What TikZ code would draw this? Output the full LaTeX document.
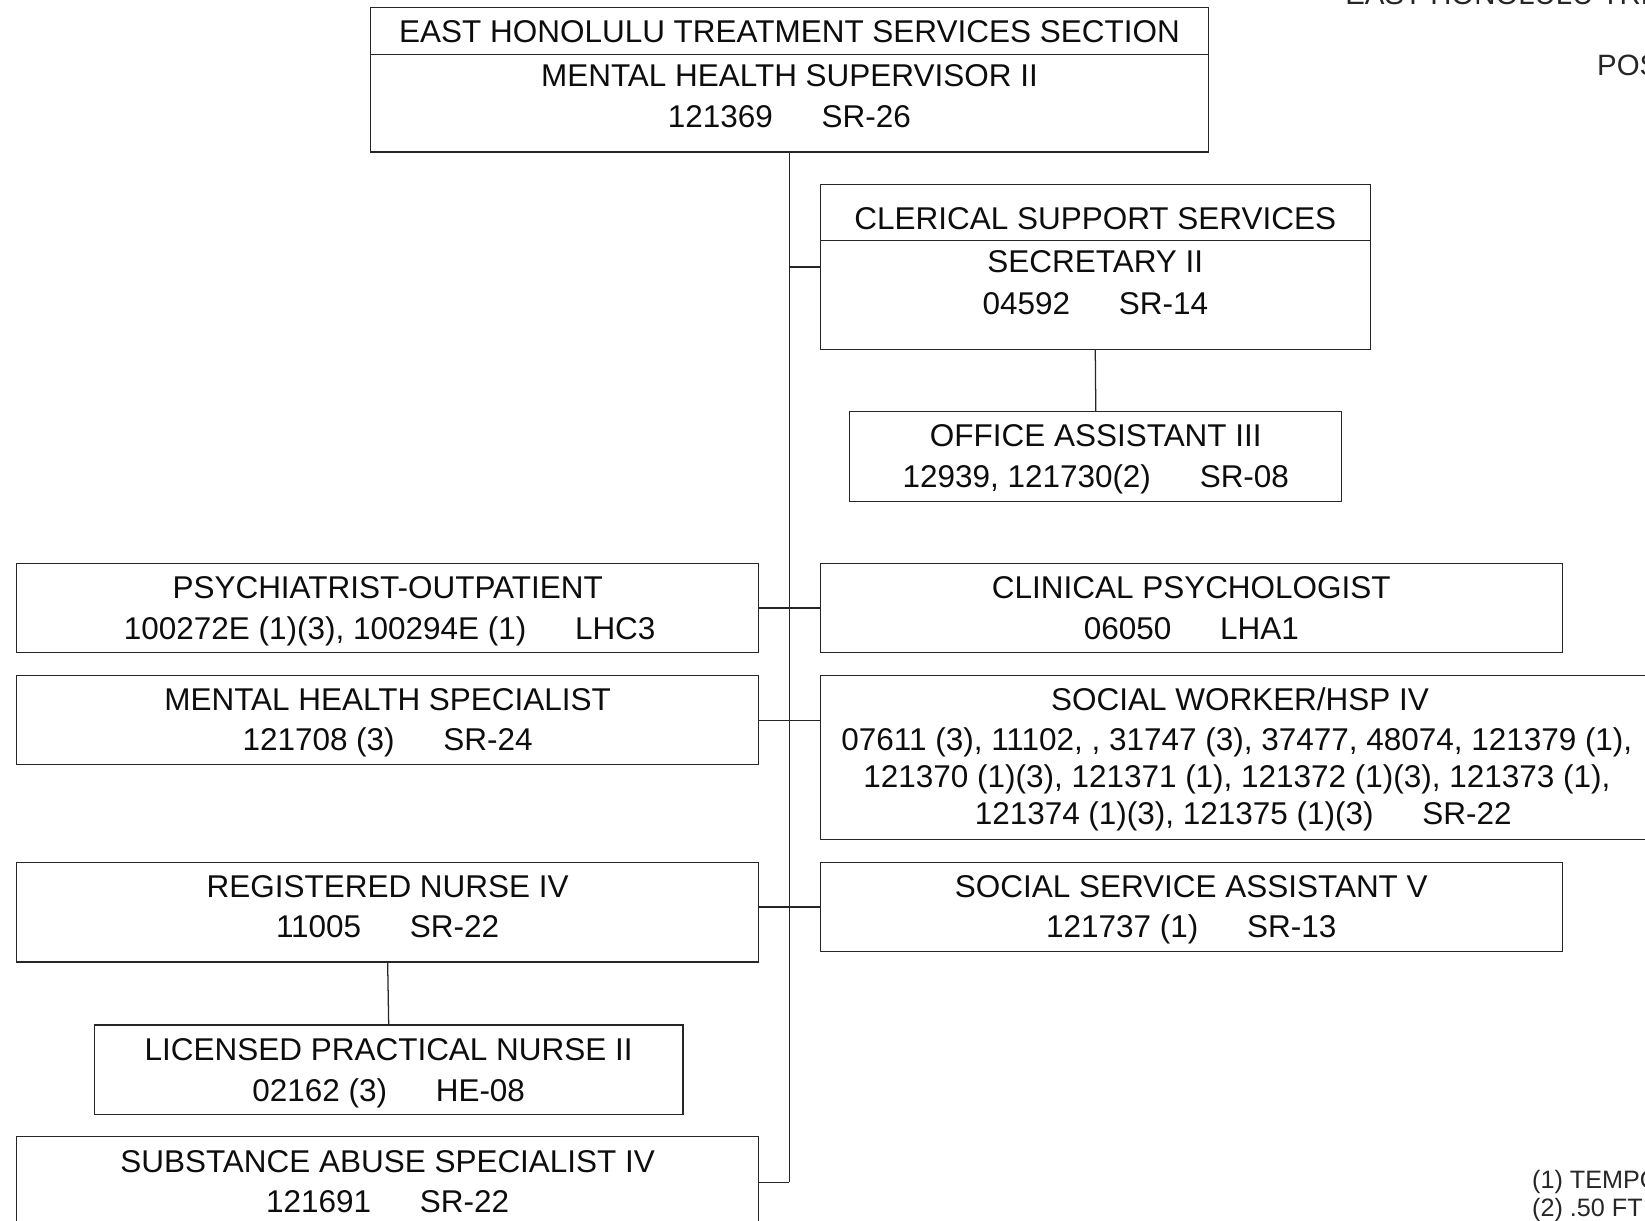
\documentclass[tikz,border=0pt]{standalone}
\usepackage{fontspec}
\setmainfont{Liberation Sans}
\usetikzlibrary{fit}
\begin{document}
\begin{tikzpicture}[x=0.5pt,y=-0.5pt,
  box/.style={draw=black!85, line width=0.6pt, inner sep=0pt, outer sep=0pt, rectangle},
  conn/.style={draw=black!85, line width=0.6pt},
  txt/.style={anchor=base, inner sep=0pt, text=black!95, font=\fontsize{15pt}{18pt}\selectfont},
  hdr/.style={anchor=base west, inner sep=0pt, text=black!85, font=\fontsize{14pt}{17pt}\selectfont},
  note/.style={anchor=base west, inner sep=0pt, text=black!85, font=\fontsize{12pt}{14pt}\selectfont}]
\useasboundingbox (0,0) rectangle (1568,1163);
\def\gap{\hspace{1.55em}}
% boxes
\node[box, fit={(353,7) (1152,145)}] (top) {};
\node[box, fit={(782,176) (1306,333)}] (cler) {};
\node[box, fit={(810,392) (1279,478)}] (oa) {};
\node[box, fit={(16,537) (723,622)}] (psy) {};
\node[box, fit={(782,537) (1489,622)}] (clin) {};
\node[box, fit={(16,644) (723,729)}] (mhs) {};
\node[box, fit={(782,644) (1582,800)}] (sw) {};
\node[box, fit={(16,822) (723,917)}] (rn) {};
\node[box, fit={(782,822) (1489,907)}] (ssa) {};
\node[box, fit={(90,977) (651,1062)}] (lpn) {};
\node[box, fit={(16,1083) (723,1200)}] (sas) {};
% dividers
\draw[conn] (353,52) -- (1152,52);
\draw[conn] (782,229) -- (1306,229);
% texts
\node[txt] (top1) at (752.5,40.7) {EAST HONOLULU TREATMENT SERVICES SECTION};
\node[txt] (top2) at (752.5,82.7) {MENTAL HEALTH SUPERVISOR II};
\node[txt] (top3) at (752.5,121.7) {121369\gap SR-26};
\node[txt] (cler1) at (1044,218.7) {CLERICAL SUPPORT SERVICES};
\node[txt] (cler2) at (1044,259.7) {SECRETARY II};
\node[txt] (cler3) at (1044,299.7) {04592\gap SR-14};
\node[txt] (oa1) at (1044.5,425.7) {OFFICE ASSISTANT III};
\node[txt] (oa2) at (1044.5,464.7) {12939, 121730(2)\gap SR-08};
\node[txt] (psy1) at (369.5,570.7) {PSYCHIATRIST-OUTPATIENT};
\node[txt] (psy2) at (371.5,609.7) {100272E (1)(3), 100294E (1)\gap LHC3};
\node[txt] (clin1) at (1135.5,570.7) {CLINICAL PSYCHOLOGIST};
\node[txt] (clin2) at (1135.5,609.7) {06050\gap LHA1};
\node[txt] (mhs1) at (369.5,677.7) {MENTAL HEALTH SPECIALIST};
\node[txt] (mhs2) at (369.5,715.7) {121708 (3)\gap SR-24};
\node[txt] (sw1) at (1182,677.7) {SOCIAL WORKER/HSP IV};
\node[txt] (sw2) at (1179,715.7) {07611 (3), 11102, , 31747 (3), 37477, 48074, 121379 (1),};
\node[txt] (sw3) at (1179,750.7) {121370 (1)(3), 121371 (1), 121372 (1)(3), 121373 (1),};
\node[txt] (sw4) at (1185,785.7) {121374 (1)(3), 121375 (1)(3)\gap SR-22};
\node[txt] (rn1) at (369.5,855.7) {REGISTERED NURSE IV};
\node[txt] (rn2) at (369.5,893.7) {11005\gap SR-22};
\node[txt] (ssa1) at (1135.5,855.7) {SOCIAL SERVICE ASSISTANT V};
\node[txt] (ssa2) at (1135.5,893.7) {121737 (1)\gap SR-13};
\node[txt] (lpn1) at (370.5,1010.7) {LICENSED PRACTICAL NURSE II};
\node[txt] (lpn2) at (370.5,1049.7) {02162 (3)\gap HE-08};
\node[txt] (sas1) at (369.5,1117.7) {SUBSTANCE ABUSE SPECIALIST IV};
\node[txt] (sas2) at (369.5,1155.7) {121691\gap SR-22};
% header / notes (cut at the page edge as in the reference)
\node[hdr] (h1) at (1282,4) {EAST HONOLULU TRE};
\node[hdr] (h2) at (1522,72.4) {POS};
\node[note] (n1) at (1460,1132.6) {(1) TEMPO};
\node[note] (n2) at (1460,1159.7) {(2) .50 FT};
% connectors
\coordinate (trunkend) at (752.5,1127);
\draw[conn] (top.south) -- (trunkend);
\draw[conn] (cler.west) -- (cler.west -| top.south);
\draw[conn] (cler.south) -- (oa.north);
\draw[conn] (psy.east) -- (clin.west);
\draw[conn] (mhs.east) -- (mhs.east -| sw.west);
\draw[conn] (ssa.west) -- (ssa.west -| rn.east);
\draw[conn] (rn.south) -- (lpn.north);
\draw[conn] (trunkend) -- (trunkend -| sas.east);
\end{tikzpicture}
\end{document}
